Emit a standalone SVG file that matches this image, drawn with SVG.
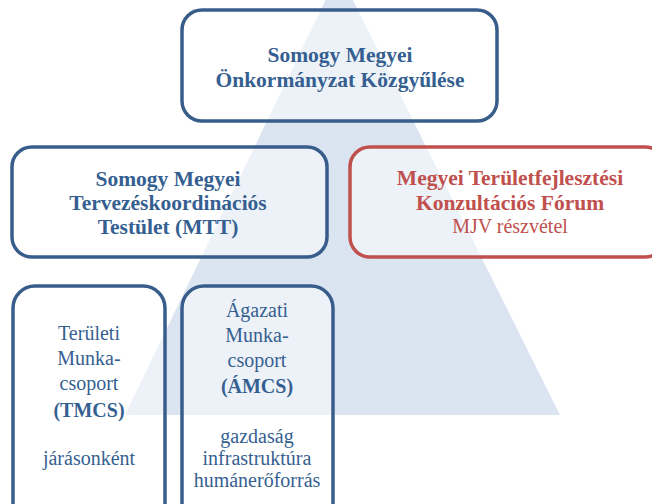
<svg xmlns="http://www.w3.org/2000/svg" width="652" height="504" viewBox="0 0 652 504">
<style>
.box{fill:#ffffff;fill-opacity:0.5;stroke-width:3.5}
.blue{stroke:#385d8a}
.red{stroke:#c0504d}
text{font-family:"Liberation Serif",Tinos,"Times New Roman",Times,"Noto Serif","DejaVu Serif",serif;text-anchor:middle}
.bt{font-weight:bold;font-size:21.5px;fill:#365f91}
.rt{font-weight:bold;font-size:21.5px;fill:#c0504d}
.rr{font-size:20px;fill:#c0504d}
.nt{font-size:20px;fill:#365f91}
.nb{font-size:20px;font-weight:bold;fill:#365f91}
</style>
<rect width="652" height="504" fill="#ffffff"/>
<polygon id="pyramid" points="339,-28 560,415 125,415" fill="#dbe5f1"/>
<g id="connectors"></g>
<g id="kozgyules">
<rect class="box blue" x="182" y="10" width="315" height="111" rx="20"/>
<text class="bt" x="340" y="62">Somogy Megyei</text>
<text class="bt" x="340" y="87">Önkormányzat Közgyűlése</text>
</g>
<g id="mtt">
<rect class="box blue" x="12" y="147" width="315" height="110" rx="20"/>
<text class="bt" x="168" y="186">Somogy Megyei</text>
<text class="bt" x="168" y="210">Tervezéskoordinációs</text>
<text class="bt" x="168" y="234">Testület (MTT)</text>
</g>
<g id="forum">
<rect class="box red" x="350" y="147" width="315" height="110" rx="20"/>
<text class="rt" x="510" y="185">Megyei Területfejlesztési</text>
<text class="rt" x="510" y="210">Konzultációs Fórum</text>
<text class="rr" x="510" y="233">MJV részvétel</text>
</g>
<g id="tmcs">
<rect class="box blue" x="13" y="286" width="152" height="240" rx="22"/>
<text class="nt" x="89" y="340">Területi</text>
<text class="nt" x="89" y="365">Munka-</text>
<text class="nt" x="89" y="390">csoport</text>
<text class="nb" x="89" y="417">(TMCS)</text>
<text class="nt" x="89" y="465">járásonként</text>
</g>
<g id="amcs">
<rect class="box blue" x="182" y="286" width="151" height="240" rx="22"/>
<text class="nt" x="257" y="317">Ágazati</text>
<text class="nt" x="257" y="342">Munka-</text>
<text class="nt" x="257" y="367">csoport</text>
<text class="nb" x="257" y="393">(ÁMCS)</text>
<text class="nt" x="257" y="443">gazdaság</text>
<text class="nt" x="257" y="465">infrastruktúra</text>
<text class="nt" x="257" y="487">humánerőforrás</text>
</g>
</svg>
